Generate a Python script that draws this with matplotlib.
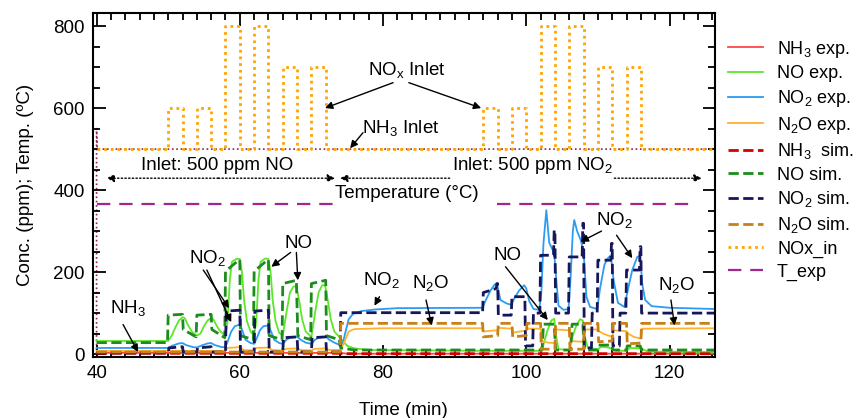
import matplotlib
matplotlib.use('Agg')
import matplotlib.pyplot as plt
from matplotlib.patches import Rectangle
from matplotlib.ticker import MultipleLocator

plt.rcParams['font.family'] = ['Liberation Sans', 'DejaVu Sans']
plt.rcParams['mathtext.default'] = 'regular'

# --- inlet conditions ---
pulse_start = [50, 54, 58, 62, 66, 70, 94, 98, 102, 106, 110, 114]
pulse_level = [600, 600, 800, 800, 700, 700, 600, 600, 800, 800, 700, 700]
pulse_width = 2
nox_base = 500
t_first, t_last = 40, 126

nh3_in_t = [40, 40, 40.1, 126]
nh3_in = [0, 550, 500, 500]

temp_t = [40, 123.5]
temp = [366, 366]

# --- experiment (solid) ---
nh3_exp_t = [40, 74, 75, 126.3]
nh3_exp = [3, 3, 1, 1]

no_exp_t = [40, 50, 50.5, 51, 51.5, 52, 52.3, 52.8, 53.3, 54, 54.5, 55, 55.5, 56, 56.3, 56.8, 57.3, 58,
            58.3, 58.6, 58.9, 59.5, 60, 60.3, 60.6, 61, 61.5, 62, 62.3, 62.6, 62.9, 63.5, 64, 64.3, 64.6,
            65, 65.5, 66, 66.5, 67, 67.5, 67.9, 68.3, 68.7, 69.2, 70, 70.5, 71, 71.5, 71.9, 72.3, 72.7,
            73.2, 74, 74.5, 75, 76, 78, 94, 102.2, 102.5, 103, 103.5, 103.9, 104.2, 104.5, 106, 106.4,
            107, 107.5, 107.9, 108.2, 108.6, 110, 110.5, 111.5, 112.5, 114, 114.5, 116, 117, 126.3]
no_exp = [32, 32, 45, 65, 82, 90, 88, 70, 55, 45, 50, 68, 82, 88, 85, 68, 55, 45,
          80, 180, 225, 232, 232, 200, 130, 80, 55, 45, 80, 180, 225, 233, 232, 200, 130,
          80, 52, 45, 100, 150, 165, 165, 130, 85, 55, 42, 100, 150, 168, 168, 130, 85,
          55, 40, 30, 20, 14, 10, 8, 8, 30, 60, 82, 86, 40, 12, 10, 40,
          70, 85, 82, 40, 15, 12, 18, 16, 8, 8, 15, 14, 6, 5]

no2_exp_t = [40, 50, 50.5, 51.5, 52, 52.5, 53.5, 54, 54.5, 55.5, 56, 56.5, 57.5, 58, 58.4, 58.8, 59.3, 60,
             60.3, 60.8, 61.5, 62, 62.4, 62.8, 63.3, 64, 64.3, 64.8, 65.5, 66, 66.5, 67, 68, 68.5, 69.2,
             70, 70.5, 71, 72, 72.5, 73.2, 74, 74.3, 74.7, 75.2, 75.8, 77, 79, 82, 93.9,
             94.3, 95, 95.6, 95.9, 96.4, 97.2, 97.9, 98.3, 99, 99.7, 100, 100.4, 101, 101.8,
             102.1, 102.4, 102.8, 103.2, 103.9, 104.2, 104.5, 105.2, 105.9, 106.2, 106.5, 106.7,
             107.1, 107.6, 108, 108.4, 108.9, 109.9, 110.3, 110.9, 111.3, 111.8, 112.2, 112.8,
             113.7, 114.1, 114.8, 115.5, 115.9, 116.2, 116.6, 117.5, 120, 126.3]
no2_exp = [15, 15, 20, 26, 27, 22, 17, 16, 20, 26, 27, 22, 17, 17, 35, 55, 68, 72,
           60, 35, 27, 25, 40, 58, 68, 70, 58, 35, 27, 25, 35, 40, 42, 35, 28,
           25, 35, 40, 42, 35, 28, 22, 20, 50, 85, 98, 105, 109, 112, 113,
           130, 155, 170, 172, 132, 124, 120, 135, 155, 168, 160, 130, 110, 108,
           150, 270, 351, 272, 246, 180, 118, 108, 110, 190, 300, 327,
           300, 278, 250, 140, 115, 110, 160, 217, 232, 241, 180, 125,
           115, 150, 205, 237, 240, 170, 132, 117, 113, 110]

n2o_exp_t = [40, 58, 58.3, 60, 60.5, 62, 62.3, 64, 64.5, 66, 66.5, 68, 68.5, 70, 70.5, 72, 72.5, 74,
             74.5, 75.2, 76, 80, 93.9, 94.1, 95, 96, 96.2, 98, 98.1, 99, 100, 100.2, 102, 102.2,
             103, 104, 104.2, 106, 106.2, 107, 108, 108.2, 110, 110.2, 111, 112, 112.2, 114, 114.2,
             115, 116, 116.2, 126.3]
n2o_exp = [8, 8, 15, 17, 10, 9, 15, 16, 10, 9, 13, 14, 10, 9, 13, 14, 10, 10,
           25, 55, 61, 63, 63, 55, 57, 58, 64, 62, 52, 55, 57, 62, 62, 32,
           28, 27, 60, 58, 32, 31, 30, 60, 60, 55, 48, 42, 58, 56, 50,
           42, 38, 62, 63]

# --- simulation (dashed) ---
nh3_sim_t = [40, 74, 74.1, 126.3]
nh3_sim = [2, 2, 1, 1]

no_sim_t = [40, 49.9, 50, 52, 52.1, 53.9, 54, 56, 56.1, 57.9, 58, 59.9, 60, 60.1, 61.9, 62, 63.9, 64,
            64.1, 65.9, 66, 67.9, 68.1, 69.9, 70, 72, 72.1, 73.9, 74.1, 76, 102.2, 102.4, 103.9,
            104.1, 106.2, 106.4, 107.9, 108.1, 110, 110.1, 111.9, 112.1, 114, 114.1, 115.9, 116.1, 126.3]
no_sim = [28, 28, 95, 97, 60, 42, 95, 97, 60, 40, 202, 230, 230, 45, 35, 202, 230, 230,
          45, 35, 172, 180, 45, 35, 172, 180, 45, 35, 15, 10, 10, 73, 73,
          10, 10, 73, 73, 10, 10, 22, 22, 10, 10, 20, 20, 10, 10]

no2_sim_t = [40, 50, 50.1, 52, 52.1, 54, 54.1, 56, 56.1, 58, 58.1, 60, 60.1, 62, 62.1, 64, 64.1, 66,
             66.1, 68, 68.1, 70, 70.1, 72, 72.1, 74, 74.1, 93.9, 94, 95.8, 95.9, 96, 96.1, 97.9,
             98, 99.8, 99.9, 100.9, 101, 101.9, 102, 103.8, 103.9, 104, 104.1, 105.9, 106, 107.8,
             107.9, 108, 108.1, 109.1, 109.2, 109.9, 110, 111.8, 111.9, 112, 112.1, 113, 113.1,
             113.9, 114, 115.8, 115.9, 116, 116.1, 126.3]
no2_sim = [3, 3, 15, 18, 5, 5, 15, 18, 5, 5, 105, 107, 5, 5, 105, 107, 5, 5,
           40, 42, 5, 5, 40, 42, 5, 5, 101, 101, 150, 160, 172, 172, 95, 95,
           140, 140, 20, 20, 100, 100, 241, 241, 302, 302, 100, 100, 237, 237,
           319, 319, 15, 15, 100, 100, 229, 229, 270, 270, 20, 20, 100,
           100, 205, 205, 262, 262, 100, 100]

n2o_sim_t = [40, 74, 74.1, 93.9, 94, 96, 96.1, 98, 98.1, 100, 100.1, 102, 102.1, 104, 104.1, 106,
             106.1, 108, 108.1, 110, 110.1, 112, 112.1, 114, 114.1, 116, 116.1, 126.3]
n2o_sim = [5, 5, 75, 75, 42, 45, 75, 75, 42, 45, 75, 75, 12, 12, 75, 75,
           12, 12, 75, 75, 30, 32, 75, 75, 25, 27, 75, 75]

# build the stepped NOx inlet signal from the pulse table
nox_t = [t_first]
nox_in = [nox_base]
for s, lv in zip(pulse_start, pulse_level):
    nox_t += [s, s, s + pulse_width, s + pulse_width]
    nox_in += [nox_base, lv, lv, nox_base]
nox_t.append(t_last)
nox_in.append(nox_base)

fig = plt.figure(figsize=(8.61, 4.18), dpi=100)
ax = fig.add_axes([0.108, 0.146, 0.722, 0.823])

ax.plot(nh3_in_t, nh3_in, color='#8b2252', lw=1.2, ls=(0, (1, 1.6)), zorder=1)

lines = []
lines += ax.plot(nh3_exp_t, nh3_exp, color='#ff4545', lw=1.3, label='NH$_3$ exp.')
lines += ax.plot(no_exp_t, no_exp, color='#5ee62a', lw=1.3, label='NO exp.')
lines += ax.plot(no2_exp_t, no2_exp, color='#2b9cf2', lw=1.3, label='NO$_2$ exp.')
lines += ax.plot(n2o_exp_t, n2o_exp, color='#ffb22e', lw=1.3, label='N$_2$O exp.')
lines += ax.plot(nh3_sim_t, nh3_sim, color='#d40000', lw=2, ls='--', label='NH$_3$  sim.')
lines += ax.plot(no_sim_t, no_sim, color='#1c8c1c', lw=2, ls='--', label='NO sim.')
lines += ax.plot(no2_sim_t, no2_sim, color='#16165c', lw=2, ls='--', label='NO$_2$ sim.')
lines += ax.plot(n2o_sim_t, n2o_sim, color='#c8801a', lw=2, ls='--', label='N$_2$O sim.')
lines += ax.plot(nox_t, nox_in, color='#ffa500', lw=2, ls=(0, (1, 1.4)), label='NOx_in')
lines += ax.plot(temp_t, temp, color='#a0288c', lw=1.6, dashes=(6, 4), label='T_exp')

# white gap in the temperature line behind its label
ax.add_patch(Rectangle((73.6, 350), 21.8, 36, facecolor='white', edgecolor='none', zorder=2.5))

ax.set_xlim(39.5, 126.3)
ax.set_ylim(-7, 832)
ax.xaxis.set_major_locator(MultipleLocator(20))
ax.xaxis.set_minor_locator(MultipleLocator(2))
ax.yaxis.set_major_locator(MultipleLocator(200))
ax.yaxis.set_minor_locator(MultipleLocator(50))
ax.tick_params(which='both', direction='in', top=True, right=True, width=1.3, labelsize=13.5)
ax.tick_params(which='major', length=9, pad=6)
ax.tick_params(which='minor', length=5)
for sp in ax.spines.values():
    sp.set_linewidth(1.5)

ax.set_xlabel('Time (min)', fontsize=13.5, labelpad=14)
ax.set_ylabel('Conc. (ppm); Temp. (ºC)', fontsize=13.5, labelpad=14)

fs = 13.5
arrow = dict(arrowstyle='-|>', color='k', lw=1, mutation_scale=11, shrinkA=0, shrinkB=0)
dotted_arrow = dict(arrowstyle='-|>', color='k', lw=1, ls=':', mutation_scale=11, shrinkA=0, shrinkB=0)

# inlet ranges
ax.text(56.8, 461, 'Inlet: 500 ppm NO', fontsize=fs, ha='center', va='center')
ax.annotate('', xy=(41.4, 429), xytext=(57, 429), arrowprops=dotted_arrow)
ax.annotate('', xy=(73.3, 429), xytext=(57, 429), arrowprops=dotted_arrow)
ax.text(100.9, 461, 'Inlet: 500 ppm NO$_2$', fontsize=fs, ha='center', va='center')
ax.annotate('', xy=(74.0, 429), xytext=(89.3, 429), arrowprops=dotted_arrow)
ax.annotate('', xy=(124.5, 429), xytext=(112.3, 429), arrowprops=dotted_arrow)
ax.text(83.3, 391, 'Temperature (°C)', fontsize=fs, ha='center', va='center', zorder=3)

ax.text(83.4, 693, 'NO$_x$ Inlet', fontsize=fs, ha='center', va='center')
ax.annotate('', xy=(71.9, 600), xytext=(81.4, 662), arrowprops=arrow)
ax.annotate('', xy=(93.7, 600), xytext=(83.6, 662), arrowprops=arrow)
ax.text(82.5, 551, 'NH$_3$ Inlet', fontsize=fs, ha='center', va='center')
ax.annotate('', xy=(75.4, 502), xytext=(77.2, 540), arrowprops=arrow)

ax.text(44.4, 112, 'NH$_3$', fontsize=fs, ha='center', va='center')
ax.annotate('', xy=(45.8, 5), xytext=(43.7, 72), arrowprops=arrow)

ax.text(55.5, 234, 'NO$_2$', fontsize=fs, ha='center', va='center')
ax.annotate('', xy=(58.5, 112), xytext=(54.9, 205), arrowprops=arrow)
ax.annotate('', xy=(58.8, 78), xytext=(55.4, 205), arrowprops=arrow)

ax.text(68.2, 270, 'NO', fontsize=fs, ha='center', va='center')
ax.annotate('', xy=(64.4, 213), xytext=(67.1, 248), arrowprops=arrow)
ax.annotate('', xy=(68.1, 180), xytext=(67.9, 248), arrowprops=arrow)

ax.text(79.8, 180, 'NO$_2$', fontsize=fs, ha='center', va='center')
ax.annotate('', xy=(78.8, 118), xytext=(79.5, 140), arrowprops=arrow)

ax.text(86.6, 173, 'N$_2$O', fontsize=fs, ha='center', va='center')
ax.annotate('', xy=(86.8, 70), xytext=(86.0, 132), arrowprops=arrow)

ax.text(97.4, 241, 'NO', fontsize=fs, ha='center', va='center')
ax.annotate('', xy=(103.0, 83), xytext=(97.1, 213), arrowprops=arrow)

ax.text(112.3, 327, 'NO$_2$', fontsize=fs, ha='center', va='center')
ax.annotate('', xy=(107.6, 274), xytext=(110.5, 300), arrowprops=arrow)
ax.annotate('', xy=(114.8, 234), xytext=(112.6, 290), arrowprops=arrow)

ax.text(121.0, 168, 'N$_2$O', fontsize=fs, ha='center', va='center')
ax.annotate('', xy=(120.7, 70), xytext=(120.2, 132), arrowprops=arrow)

ax.legend(handles=lines, loc='upper left', bbox_to_anchor=(1.022, 0.925), frameon=False,
          fontsize=13, handlelength=1.9, handletextpad=0.8, labelspacing=0.31,
          borderaxespad=0, borderpad=0)

fig.savefig('out.png', dpi=100)
